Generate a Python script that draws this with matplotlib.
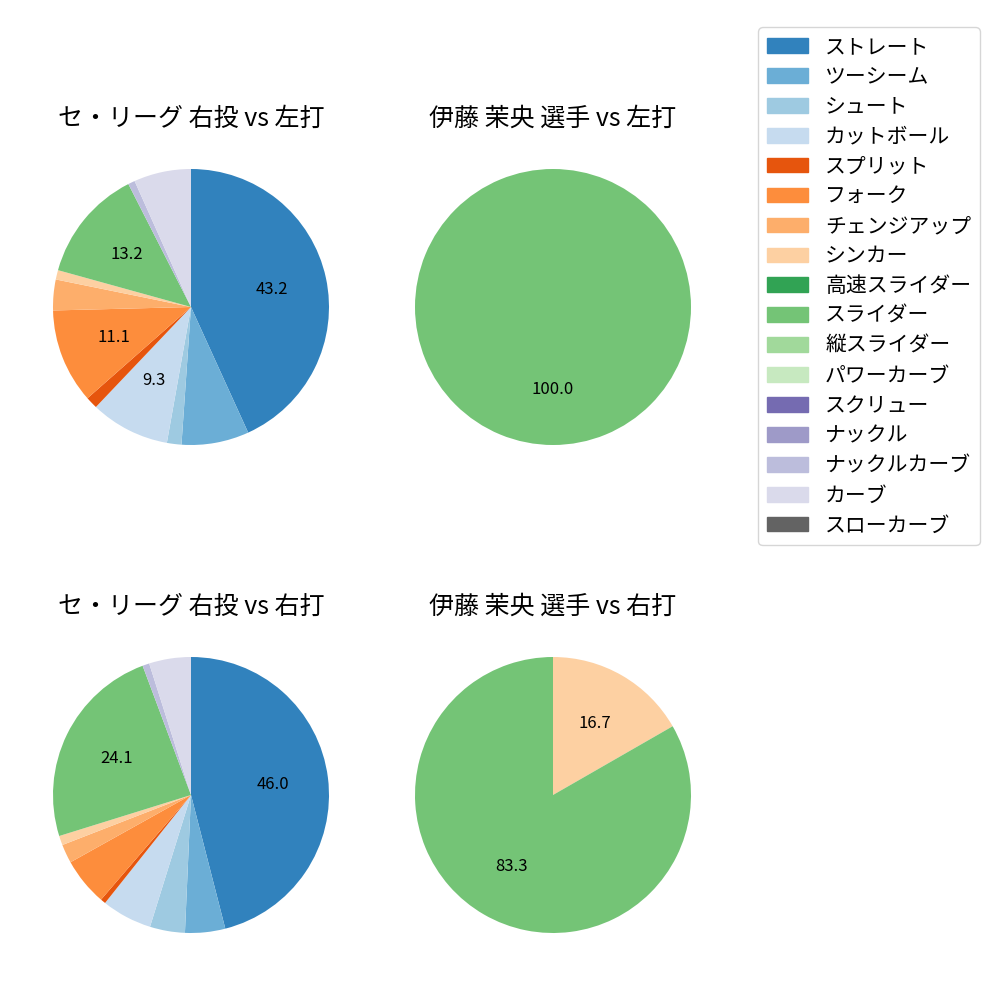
import matplotlib.pyplot as plt
from matplotlib.patches import Patch

plt.rcParams['font.family'] = ['Noto Sans CJK JP', 'DejaVu Sans']

球種 = ['ストレート', 'ツーシーム', 'シュート', 'カットボール', 'スプリット', 'フォーク',
      'チェンジアップ', 'シンカー', '高速スライダー', 'スライダー', '縦スライダー',
      'パワーカーブ', 'スクリュー', 'ナックル', 'ナックルカーブ', 'カーブ', 'スローカーブ']

cmap = plt.get_cmap('tab20c')
色 = [cmap(i) for i in range(16)] + ['#636363']

# 各球種の割合 (%)
リーグ_左打 = [43.2, 7.9, 1.7, 9.3, 1.4, 11.1, 3.6, 1.1, 0, 13.2, 0, 0, 0, 0, 0.8, 6.7, 0]
選手_左打 = [0, 0, 0, 0, 0, 0, 0, 0, 0, 100.0, 0, 0, 0, 0, 0, 0, 0]
リーグ_右打 = [46.0, 4.7, 4.1, 5.9, 0.6, 5.6, 2.2, 1.1, 0, 24.1, 0, 0, 0, 0, 0.8, 4.9, 0]
選手_右打 = [0, 0, 0, 0, 0, 0, 0, 16.7, 0, 83.3, 0, 0, 0, 0, 0, 0, 0]

タイトル = ['セ・リーグ 右投 vs 左打', '伊藤 茉央 選手 vs 左打',
          'セ・リーグ 右投 vs 右打', '伊藤 茉央 選手 vs 右打']
データ = [リーグ_左打, 選手_左打, リーグ_右打, 選手_右打]
位置 = [(0.191, 0.693), (0.553, 0.693), (0.191, 0.205), (0.553, 0.205)]

fig = plt.figure(figsize=(10, 10), dpi=100)
size = 0.345

for vals, title, (cx, cy) in zip(データ, タイトル, 位置):
    ax = fig.add_axes([cx - size / 2, cy - size / 2, size, size])
    v = [x for x in vals if x > 0]
    c = [色[i] for i, x in enumerate(vals) if x > 0]
    ax.pie(v, colors=c, startangle=90, counterclock=False,
           autopct=lambda p: f'{p:.1f}' if p >= 9 else '',
           textprops={'fontsize': 12})
    ax.set_title(title, fontsize=18)

handles = [Patch(color=色[i], label=球種[i]) for i in range(len(球種))]
fig.legend(handles=handles, loc='upper right', bbox_to_anchor=(0.99, 0.983),
           fontsize=15, labelspacing=0.38)

fig.savefig('out.png')
